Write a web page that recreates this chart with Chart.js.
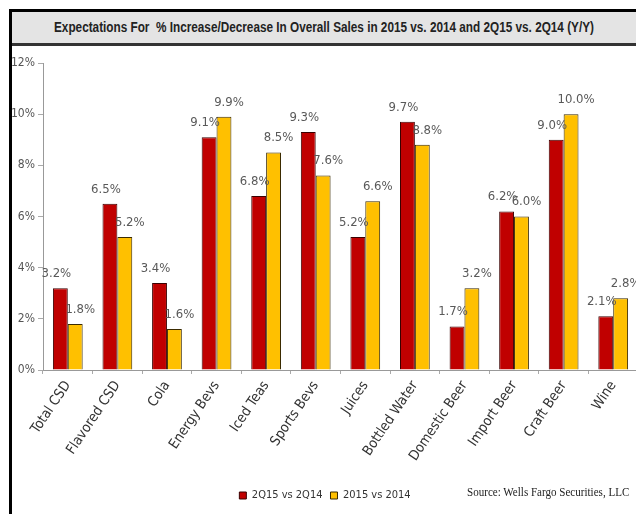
<!DOCTYPE html>
<html>
<head>
<meta charset="utf-8">
<script src="https://cdn.jsdelivr.net/npm/chart.js@4"></script>
<style>
  html, body { margin:0; padding:0; background:#fff; overflow:hidden; width:636px; height:514px; }
  #frame { position:absolute; left:9px; top:9px; width:640px; height:520px; border-left:3px solid #000; border-top:3px solid #000; }
  #title { height:31px; background:#e4e4e4; border-bottom:3px solid #333; width:624px; position:relative; overflow:hidden; }
  #title span { position:absolute; left:50%; top:0; white-space:nowrap; transform:translateX(-50%) scaleX(0.84);
           font-family:'Liberation Sans',sans-serif; font-weight:bold; font-size:14px; line-height:31px; color:#222; }
  #wrap { position:absolute; left:0; top:34px; width:640px; height:469px; }
  #source { position:absolute; left:467px; top:484px; font-family:'Liberation Serif',serif; font-size:13px;
            color:#222; transform:scaleX(0.85); transform-origin:left top; white-space:nowrap; }
</style>
</head>
<body>
<div id="frame">
  <div id="title"><span>Expectations For &nbsp;% Increase/Decrease In Overall Sales in 2015 vs. 2014 and 2Q15 vs. 2Q14 (Y/Y)</span></div>
  <div id="wrap"><canvas id="c" width="640" height="469"></canvas></div>
</div>
<div id="source">Source: Wells Fargo Securities, LLC</div>
<script>
const categories = ['Total CSD','Flavored CSD','Cola','Energy Bevs','Iced Teas','Sports Bevs','Juices','Bottled Water','Domestic Beer','Import Beer','Craft Beer','Wine']
const q2Values = [3.2, 6.5, 3.4, 9.1, 6.8, 9.3, 5.2, 9.7, 1.7, 6.2, 9.0, 2.1]
const yearValues = [1.8, 5.2, 1.6, 9.9, 8.5, 7.6, 6.6, 8.8, 3.2, 6.0, 10.0, 2.8]
const seriesNames = ['2Q15 vs 2Q14', '2015 vs 2014']

const narrow = "'DejaVu Sans Condensed','Liberation Sans',sans-serif"

// value labels above bars, red nudged left, yellow nudged right
const valueLabels = {
  id:'valueLabels',
  afterDatasetsDraw(chart){
    const ctx = chart.ctx
    ctx.save()
    ctx.font = '13px ' + narrow
    ctx.fillStyle = '#595959'
    ctx.textAlign = 'center'
    ctx.textBaseline = 'bottom'
    chart.data.datasets.forEach((ds, di) => {
      const meta = chart.getDatasetMeta(di)
      meta.data.forEach((bar, i) => {
        const nudge = di === 0 ? -4 : 5
        ctx.fillText(ds.data[i].toFixed(1) + '%', bar.x + nudge, bar.y - 8)
      })
    })
    ctx.restore()
  }
}

new Chart(document.getElementById('c'), {
  type:'bar',
  data:{
    labels: categories,
    datasets:[
      { label: seriesNames[0], data: q2Values, backgroundColor:'#c00000', borderColor:'#3a0000', borderWidth:1,
        categoryPercentage:0.6, barPercentage:1.0 },
      { label: seriesNames[1], data: yearValues, backgroundColor:'#ffc000', borderColor:'#3a2a00', borderWidth:1,
        categoryPercentage:0.6, barPercentage:1.0 }
    ]
  },
  options:{
    responsive:false,
    animation:false,
    layout:{ padding:{ top:17, right:14, bottom:4, left:0 } },
    plugins:{
      legend:{ position:'bottom', labels:{ boxWidth:7, boxHeight:7, padding:8, color:'#333',
        font:{ family:narrow, size:11 } } },
      tooltip:{ enabled:false }
    },
    scales:{
      y:{
        min:0, max:12,
        ticks:{ stepSize:2, callback:v => v + '%', color:'#555', padding:3, font:{ family:narrow, size:12 } },
        grid:{ drawOnChartArea:false, tickLength:5, color:'#aaa' },
        border:{ color:'#999' },
        afterFit(scale){ scale.width = 31 }
      },
      x:{
        ticks:{ maxRotation:56, minRotation:56, color:'#333', padding:4, font:{ family:narrow, size:14 } },
        grid:{ drawOnChartArea:false, tickLength:4, color:'#aaa' },
        border:{ color:'#999' },
        afterFit(scale){ scale.height = 112 }
      }
    }
  },
  plugins:[valueLabels]
})
</script>
</body>
</html>
